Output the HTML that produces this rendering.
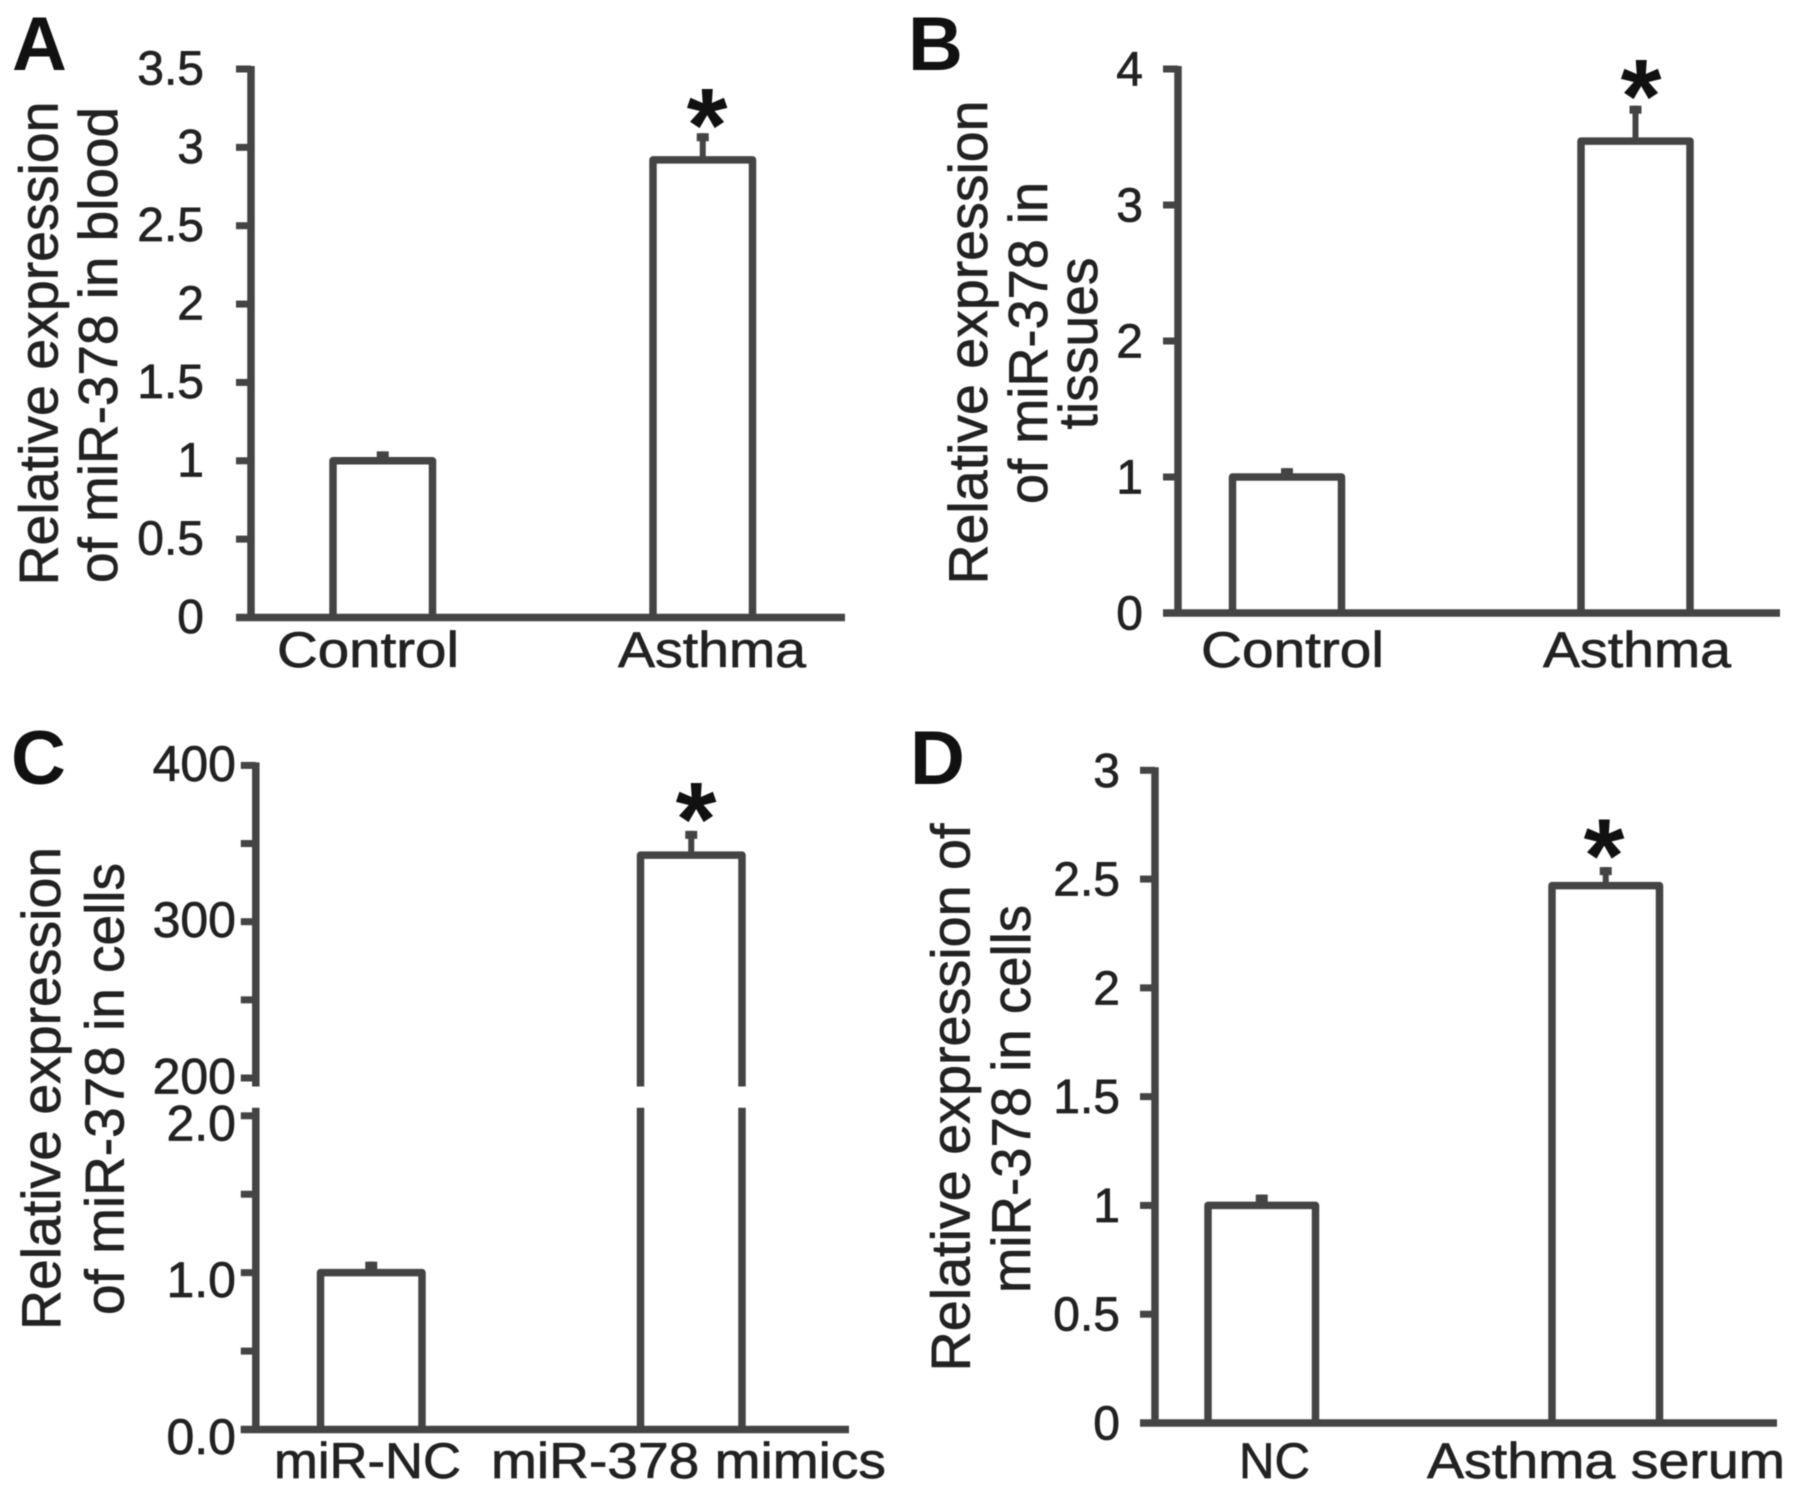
<!DOCTYPE html>
<html lang="en">
<head>
<meta charset="utf-8">
<title>Relative expression of miR-378</title>
<style>
html,body{margin:0;padding:0;background:#fff}
svg{display:block;filter:blur(.6px)}
text{font-family:"Liberation Sans",Arial,sans-serif;fill:#222;stroke:#222;stroke-width:.7px}
.t{font-size:55px}
.tick{font-size:48px;text-anchor:end}
.tick-large{font-size:50px}
.cat{font-size:50px}
.letter{font-size:76px;font-weight:bold;fill:#111;stroke:none}
.star{font-size:105px;font-weight:bold;fill:#111;stroke:none;text-anchor:middle}
</style>
</head>
<body>
<svg id="fig" xmlns="http://www.w3.org/2000/svg" width="1795" height="1494" viewBox="0 0 1795 1494">
  <rect width="1795" height="1494" fill="#fff"/>
  <g>
    <text class="letter" x="12" y="70">A</text>
    <text class="letter" x="908" y="70">B</text>
    <text class="letter" x="11" y="784">C</text>
    <text class="letter" x="910" y="784">D</text>
  </g>
  <g>
    <text class="t" text-anchor="middle" textLength="484" lengthAdjust="spacingAndGlyphs" transform="translate(57.5 343.5) rotate(-90)">Relative expression</text>
    <text class="t" text-anchor="middle" textLength="476" lengthAdjust="spacingAndGlyphs" transform="translate(117 345) rotate(-90)">of miR-378 in blood</text>
    <text class="t" text-anchor="middle" textLength="484" lengthAdjust="spacingAndGlyphs" transform="translate(987 342.5) rotate(-90)">Relative expression</text>
    <text class="t" text-anchor="middle" textLength="322" lengthAdjust="spacingAndGlyphs" transform="translate(1047 343) rotate(-90)">of miR-378 in</text>
    <text class="t" text-anchor="middle" textLength="172" lengthAdjust="spacingAndGlyphs" transform="translate(1097 343.5) rotate(-90)">tissues</text>
    <text class="t" text-anchor="middle" textLength="483" lengthAdjust="spacingAndGlyphs" transform="translate(60 1088.5) rotate(-90)">Relative expression</text>
    <text class="t" text-anchor="middle" textLength="452" lengthAdjust="spacingAndGlyphs" transform="translate(123.5 1089) rotate(-90)">of miR-378 in cells</text>
    <text class="t" text-anchor="middle" textLength="548" lengthAdjust="spacingAndGlyphs" transform="translate(969.5 1097.5) rotate(-90)">Relative expression of</text>
    <text class="t" text-anchor="middle" textLength="388" lengthAdjust="spacingAndGlyphs" transform="translate(1030 1099) rotate(-90)">miR-378 in cells</text>
  </g>
</svg>
<script>
// Panel A data
const panelACategories = ['Control', 'Asthma'];
const panelAValues = [1.0, 2.92];
const panelAErrors = [0.06, 0.17];
const panelATicks = [0, 0.5, 1, 1.5, 2, 2.5, 3, 3.5];
const panelATickLabels = ['0', '0.5', '1', '1.5', '2', '2.5', '3', '3.5'];
// Panel B data
const panelBCategories = ['Control', 'Asthma'];
const panelBValues = [1.0, 3.47];
const panelBErrors = [0.065, 0.26];
const panelBTicks = [0, 1, 2, 3, 4];
const panelBTickLabels = ['0', '1', '2', '3', '4'];
// Panel C data (broken axis)
const panelCCategories = ['miR-NC', 'miR-378 mimics'];
const panelCValues = [1.0, 342.6];
const panelCErrors = [0.07, 15.5];
const panelCTicks = [0, 0.5, 1, 1.5, 2, 200, 250, 300, 350, 400];
const panelCTickLabels = ['0.0', '', '1.0', '', '2.0', '200', '', '300', '', '400'];
// Panel D data
const panelDCategories = ['NC', 'Asthma serum'];
const panelDValues = [1.0, 2.47];
const panelDErrors = [0.05, 0.085];
const panelDTicks = [0, 0.5, 1, 1.5, 2, 2.5, 3];
const panelDTickLabels = ['0', '0.5', '1', '1.5', '2', '2.5', '3'];

const INK = '#444';
const STROKE = 7.5;
const STAR_FONT = 105;
const svg = document.getElementById('fig');

function make(tag, attrs, parent) {
  const el = document.createElementNS('http://www.w3.org/2000/svg', tag);
  for (const k in attrs) el.setAttribute(k, attrs[k]);
  parent.appendChild(el);
  return el;
}

function linearAxis(domainMin, domainMax, pxMin, pxMax) {
  return function (v) {
    return pxMin + (v - domainMin) / (domainMax - domainMin) * (pxMax - pxMin);
  };
}

function makeYAxis(p) {
  const low = linearAxis(0, p.lowMax, p.baseY, p.lowTopY);
  if (!p.highMin) return low;
  const high = linearAxis(p.highMin, p.highMax, p.highBottomY, p.topY);
  return function (v) { return v <= p.lowMax ? low(v) : high(v); };
}

function drawPanel(p, categories, values, errors, ticks, tickLabels) {
  const g = make('g', {}, svg);
  
  
  const y = makeYAxis(p);

  categories.forEach(function (cat, i) {
    const left = p.barStart + i * p.barStep;
    const right = left + p.barWidth;
    const mid = left + p.barWidth / 2;
    const topY = y(values[i]);
    const errY = y(values[i] + errors[i]);

    const stem = make('rect', { x: mid - 3, y: errY, width: 6, height: topY - errY, fill: INK }, g);
    
    
    const cap = make('rect', { x: mid - 6, y: errY, width: 12, height: 8, fill: INK }, g);
    
    

    if (p.highMin && values[i] > p.lowMax) {
      const upper = make('path', {
        d: 'M' + left + ' ' + p.gapTop + 'V' + topY + 'H' + right + 'V' + p.gapTop,
        fill: 'none', stroke: INK, 'stroke-width': STROKE, 'stroke-linejoin': 'round'
      }, g);
      
      
      const lower = make('path', {
        d: 'M' + left + ' ' + p.gapBottom + 'V' + p.baseY + 'M' + right + ' ' + p.gapBottom + 'V' + p.baseY,
        fill: 'none', stroke: INK, 'stroke-width': STROKE
      }, g);
      
      
    } else {
      const bar = make('path', {
        d: 'M' + left + ' ' + p.baseY + 'V' + topY + 'H' + right + 'V' + p.baseY,
        fill: '#fff', stroke: INK, 'stroke-width': STROKE, 'stroke-linejoin': 'round'
      }, g);
      
      
    }

    const label = make('text', {
      class: 'cat', x: p.catX[i], y: p.catY, textLength: p.catW[i], lengthAdjust: 'spacingAndGlyphs'
    }, g);
    label.textContent = cat;
    
    
  });

  const stars = make('text', { class: 'star', x: p.starX, y: y(values[1] + errors[1]) + p.starDy + 0.5 * STAR_FONT }, g);
  stars.textContent = '*';
  
  

  if (p.highMin) {
    const a1 = make('line', { x1: p.axisX, x2: p.axisX, y1: p.topY - 3, y2: p.gapTop, stroke: INK, 'stroke-width': STROKE }, g);
    
    
    const a2 = make('line', { x1: p.axisX, x2: p.axisX, y1: p.gapBottom, y2: p.baseY, stroke: INK, 'stroke-width': STROKE }, g);
    
    
  } else {
    const a = make('line', { x1: p.axisX, x2: p.axisX, y1: p.lowTopY - 3, y2: p.baseY, stroke: INK, 'stroke-width': STROKE }, g);
    
    
  }
  const xAxis = make('line', { x1: p.axisX - 15, x2: p.axisEnd, y1: p.baseY, y2: p.baseY, stroke: INK, 'stroke-width': STROKE }, g);
  
  

  ticks.forEach(function (t, i) {
    const ty = y(t);
    const mark = make('line', { x1: p.axisX - 15, x2: p.axisX, y1: ty, y2: ty, stroke: INK, 'stroke-width': 7 }, g);
    
    
    if (tickLabels[i]) {
      const dy = (p.highMin && t <= p.lowMax) ? p.lowDy : p.labelDy;
      const tl = make('text', { class: p.highMin ? 'tick tick-large' : 'tick', x: p.labelX, y: ty + dy }, g);
      tl.textContent = tickLabels[i];
      
      
    }
  });
}

drawPanel({
  name: 'panel-a', axisX: 251, axisEnd: 845, baseY: 617.5, lowMax: 3.5, lowTopY: 69,
  barStart: 333, barStep: 320, barWidth: 99.5, labelX: 204, labelDy: 15.5,
  catX: [277, 618], catW: [182, 188], catY: 667, starX: 707, starDy: -24.7
}, panelACategories, panelAValues, panelAErrors, panelATicks, panelATickLabels);

drawPanel({
  name: 'panel-b', axisX: 1178, axisEnd: 1780, baseY: 613, lowMax: 4, lowTopY: 69,
  barStart: 1232.5, barStep: 348.5, barWidth: 109, labelX: 1143, labelDy: 16.5,
  catX: [1201, 1543], catW: [183, 188], catY: 667, starX: 1641, starDy: -26
}, panelBCategories, panelBValues, panelBErrors, panelBTicks, panelBTickLabels);

drawPanel({
  name: 'panel-c', axisX: 255.8, axisEnd: 849, baseY: 1429.5, lowMax: 2, lowTopY: 1115.8,
  highMin: 200, highMax: 400, highBottomY: 1078, topY: 765.4, gapTop: 1086.5, gapBottom: 1107.7,
  barStart: 320.5, barStep: 320, barWidth: 101.5, labelX: 236, labelDy: 15.5, lowDy: 24.5,
  catX: [274, 491], catW: [187, 395], catY: 1478, starX: 696, starDy: -28.6
}, panelCCategories, panelCValues, panelCErrors, panelCTicks, panelCTickLabels);

drawPanel({
  name: 'panel-d', axisX: 1155, axisEnd: 1777, baseY: 1423, lowMax: 3, lowTopY: 770.3,
  barStart: 1208, barStep: 344, barWidth: 107.5, labelX: 1120, labelDy: 16.5,
  catX: [1239, 1427], catW: [71, 358], catY: 1478, starX: 1604, starDy: -28
}, panelDCategories, panelDValues, panelDErrors, panelDTicks, panelDTickLabels);
</script>
</body>
</html>
